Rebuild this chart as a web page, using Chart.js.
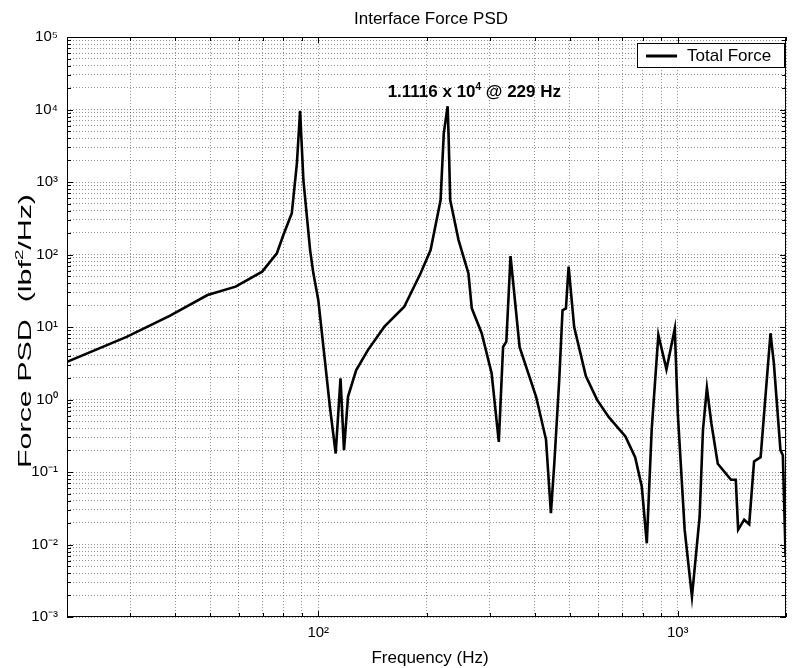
<!DOCTYPE html>
<html>
<head>
<meta charset="utf-8">
<title>Interface Force PSD</title>
<script src="https://cdn.jsdelivr.net/npm/chart.js@4.4.1/dist/chart.umd.min.js"></script>
<style>
  html, body { margin: 0; padding: 0; background: #fff; }
  #wrap { width: 793px; height: 668px; }
</style>
</head>
<body>
<div id="wrap"><canvas id="psd" width="793" height="668"></canvas></div>
<script>
// Valores (frecuencia en Hz, PSD en lbf^2/Hz)
const freqHz = [
  20, 29.3, 38.6, 49.2, 58.9, 69.8, 76.7, 80.1, 84.4, 87.2, 89.0, 90.9, 94.9, 96.9,
  100, 104.3, 107.7, 111.8, 115.3, 117.9, 121, 127.5, 137.4, 152.7, 173.4, 192.6, 205.3,
  218.9, 223.4, 229, 230.5, 232.8, 245.6, 261.6, 267.3, 284.8, 303.5, 317.8, 326.6, 333.5, 342.6,
  363, 403.6, 430, 443.7, 453.4, 468, 478, 488.5, 497, 515, 555, 597, 643, 715, 761,
  794, 820, 846, 883, 930, 981, 1000, 1045, 1095, 1150, 1175, 1205, 1240, 1292, 1406,
  1450, 1472, 1530, 1580, 1630, 1700, 1811, 1850, 1930, 1960, 1995
];
const psdValues = [
  3.3, 7.3, 14.2, 27.6, 36, 58, 104, 190, 370, 1810, 9600, 1067, 115, 55,
  23.6, 3.5, 0.8, 0.18, 1.96, 0.2, 1.1, 2.55, 4.8, 10.1, 19, 55, 115,
  565, 4700, 11116, 4000, 565, 158, 55, 18.1, 8.2, 2.3, 0.26, 5.3, 6.3, 95,
  5.3, 1.09, 0.28, 0.027, 0.13, 1.86, 17, 18, 68, 10, 2.1, 0.98, 0.57, 0.31, 0.16,
  0.063, 0.0104, 0.38, 7.8, 2.6, 9.5, 0.65, 0.016, 0.0019, 0.024, 0.38, 1.45, 0.47, 0.13, 0.078,
  0.078, 0.016, 0.022, 0.019, 0.14, 0.16, 8.2, 3.2, 0.2, 0.17, 0.0068
];

// Líneas de rejilla (mayores y menores) y etiquetas de las décadas
const xGridHz = [20, 30, 40, 50, 60, 70, 80, 90, 100, 200, 300, 400, 500, 600, 700, 800, 900, 1000, 2000];
const yGridValues = [
  0.001, 0.002, 0.003, 0.004, 0.005, 0.006, 0.007, 0.008, 0.009,
  0.01, 0.02, 0.03, 0.04, 0.05, 0.06, 0.07, 0.08, 0.09,
  0.1, 0.2, 0.3, 0.4, 0.5, 0.6, 0.7, 0.8, 0.9,
  1, 2, 3, 4, 5, 6, 7, 8, 9,
  10, 20, 30, 40, 50, 60, 70, 80, 90,
  100, 200, 300, 400, 500, 600, 700, 800, 900,
  1000, 2000, 3000, 4000, 5000, 6000, 7000, 8000, 9000,
  10000, 20000, 30000, 40000, 50000, 60000, 70000, 80000, 90000,
  100000
];
const xTickValues = [100, 1000];
const xTickLabels = ['10²', '10³'];
const yTickValues = [0.001, 0.01, 0.1, 1, 10, 100, 1000, 10000, 100000];
const yTickLabels = ['10⁻³', '10⁻²', '10⁻¹', '10⁰', '10¹', '10²', '10³', '10⁴', '10⁵'];

const peakHz = 229;
const peakValue = 11116;

const FONT = '"Liberation Sans", Arial, Helvetica, sans-serif';
const GRID_COLOR = 'rgba(0, 0, 0, 0.42)';

function labelFor(values, labels, v) {
  const i = values.findIndex(t => Math.abs(t - v) / t < 1e-6);
  return i >= 0 ? labels[i] : '';
}

// Dibuja texto con partes en superíndice; devuelve el ancho total
function drawRich(ctx, parts, x, y, size, weight) {
  let cx = x;
  parts.forEach(p => {
    const s = p.sup ? Math.round(size * 0.6) : size;
    ctx.font = `${weight} ${s}px ${FONT}`;
    ctx.fillText(p.t, cx, p.sup ? y - size * 0.45 : y);
    cx += ctx.measureText(p.t).width;
  });
  return cx - x;
}

function richWidth(ctx, parts, size, weight) {
  let w = 0;
  parts.forEach(p => {
    const s = p.sup ? Math.round(size * 0.6) : size;
    ctx.font = `${weight} ${s}px ${FONT}`;
    w += ctx.measureText(p.t).width;
  });
  return w;
}

// ─── Marco, marcas interiores, textos, leyenda y anotación ───────────────────
const decorPlugin = {
  id: 'decor',
  afterDraw(chart) {
    const { ctx, chartArea: a, scales: { x, y } } = chart;
    ctx.save();

    // marco del área de trazado
    ctx.strokeStyle = '#000';
    ctx.lineWidth = 1;
    ctx.setLineDash([]);
    ctx.strokeRect(a.left + 0.5, a.top + 0.5, a.right - a.left - 1, a.bottom - a.top - 1);

    // marcas hacia dentro (estilo MATLAB)
    ctx.beginPath();
    xGridHz.forEach(v => {
      const px = Math.round(x.getPixelForValue(v)) + 0.5;
      const len = xTickValues.includes(v) ? 6 : 4;
      ctx.moveTo(px, a.bottom); ctx.lineTo(px, a.bottom - len);
      ctx.moveTo(px, a.top); ctx.lineTo(px, a.top + len);
    });
    yGridValues.forEach(v => {
      const py = Math.round(y.getPixelForValue(v)) + 0.5;
      const len = yTickValues.includes(v) ? 6 : 4;
      ctx.moveTo(a.left, py); ctx.lineTo(a.left + len, py);
      ctx.moveTo(a.right, py); ctx.lineTo(a.right - len, py);
    });
    ctx.stroke();

    ctx.fillStyle = '#000';
    ctx.textBaseline = 'alphabetic';

    // título
    ctx.font = `17px ${FONT}`;
    ctx.textAlign = 'center';
    ctx.fillText('Interface Force PSD', 431, 24);

    // etiqueta eje x
    ctx.fillText('Frequency (Hz)', 430, 663);

    // etiqueta eje y (girada y estirada a lo largo)
    ctx.textAlign = 'left';
    const yParts = [{ t: 'Force PSD  (lbf' }, { t: '2', sup: true }, { t: '/Hz)' }];
    const ySize = 18;
    const yw = richWidth(ctx, yParts, ySize, 'normal');
    const targetLen = 274;
    ctx.save();
    ctx.translate(31, 331);
    ctx.rotate(-Math.PI / 2);
    ctx.scale(targetLen / yw, 1);
    drawRich(ctx, yParts, -yw / 2, 0, ySize, 'normal');
    ctx.restore();

    // anotación del pico principal
    const apx = x.getPixelForValue(peakHz);
    const apy = y.getPixelForValue(peakValue);
    drawRich(ctx, [{ t: '1.1116 x 10' }, { t: '4', sup: true }, { t: ' @ 229 Hz' }],
      apx - 60, apy - 9, 17, 'bold');

    // leyenda
    const lx = a.right - 149, ly = a.top + 6, lw = 148, lh = 25;
    ctx.fillStyle = '#fff';
    ctx.fillRect(lx, ly, lw, lh);
    ctx.strokeStyle = '#000';
    ctx.lineWidth = 1;
    ctx.strokeRect(lx + 0.5, ly + 0.5, lw - 1, lh - 1);
    ctx.lineWidth = 3;
    ctx.beginPath();
    ctx.moveTo(lx + 9, ly + 13);
    ctx.lineTo(lx + 40, ly + 13);
    ctx.stroke();
    ctx.fillStyle = '#000';
    ctx.font = `17px ${FONT}`;
    ctx.textBaseline = 'middle';
    ctx.fillText('Total Force', lx + 50, ly + 13);

    ctx.restore();
  }
};

new Chart(document.getElementById('psd'), {
  type: 'line',
  data: {
    datasets: [{
      label: 'Total Force',
      data: freqHz.map((f, i) => ({ x: f, y: psdValues[i] })),
      borderColor: '#000',
      backgroundColor: '#000',
      borderWidth: 2.6,
      pointRadius: 0,
      tension: 0,
      fill: false
    }]
  },
  options: {
    responsive: false,
    animation: false,
    layout: { padding: { top: 37, right: 1, left: 0, bottom: 0 } },
    plugins: {
      legend: { display: false },
      tooltip: { enabled: false },
      title: { display: false }
    },
    scales: {
      x: {
        type: 'logarithmic',
        min: 20,
        max: 2000,
        afterBuildTicks: s => { s.ticks = xGridHz.map(v => ({ value: v })); },
        afterFit: s => { s.height = 51; },
        grid: { color: GRID_COLOR, lineWidth: 1, drawTicks: false },
        border: { display: false, dash: [1, 2] },
        ticks: {
          autoSkip: false,
          maxRotation: 0,
          padding: 7,
          color: '#000',
          font: { family: FONT, size: 15 },
          callback: v => labelFor(xTickValues, xTickLabels, v)
        }
      },
      y: {
        type: 'logarithmic',
        min: 0.001,
        max: 100000,
        afterBuildTicks: s => { s.ticks = yGridValues.map(v => ({ value: v })); },
        afterFit: s => { s.width = 67; },
        grid: { color: GRID_COLOR, lineWidth: 1, drawTicks: false },
        border: { display: false, dash: [1, 2] },
        ticks: {
          autoSkip: false,
          padding: 9,
          color: '#000',
          font: { family: FONT, size: 15 },
          callback: v => labelFor(yTickValues, yTickLabels, v)
        }
      }
    }
  },
  plugins: [decorPlugin]
});
</script>
</body>
</html>
